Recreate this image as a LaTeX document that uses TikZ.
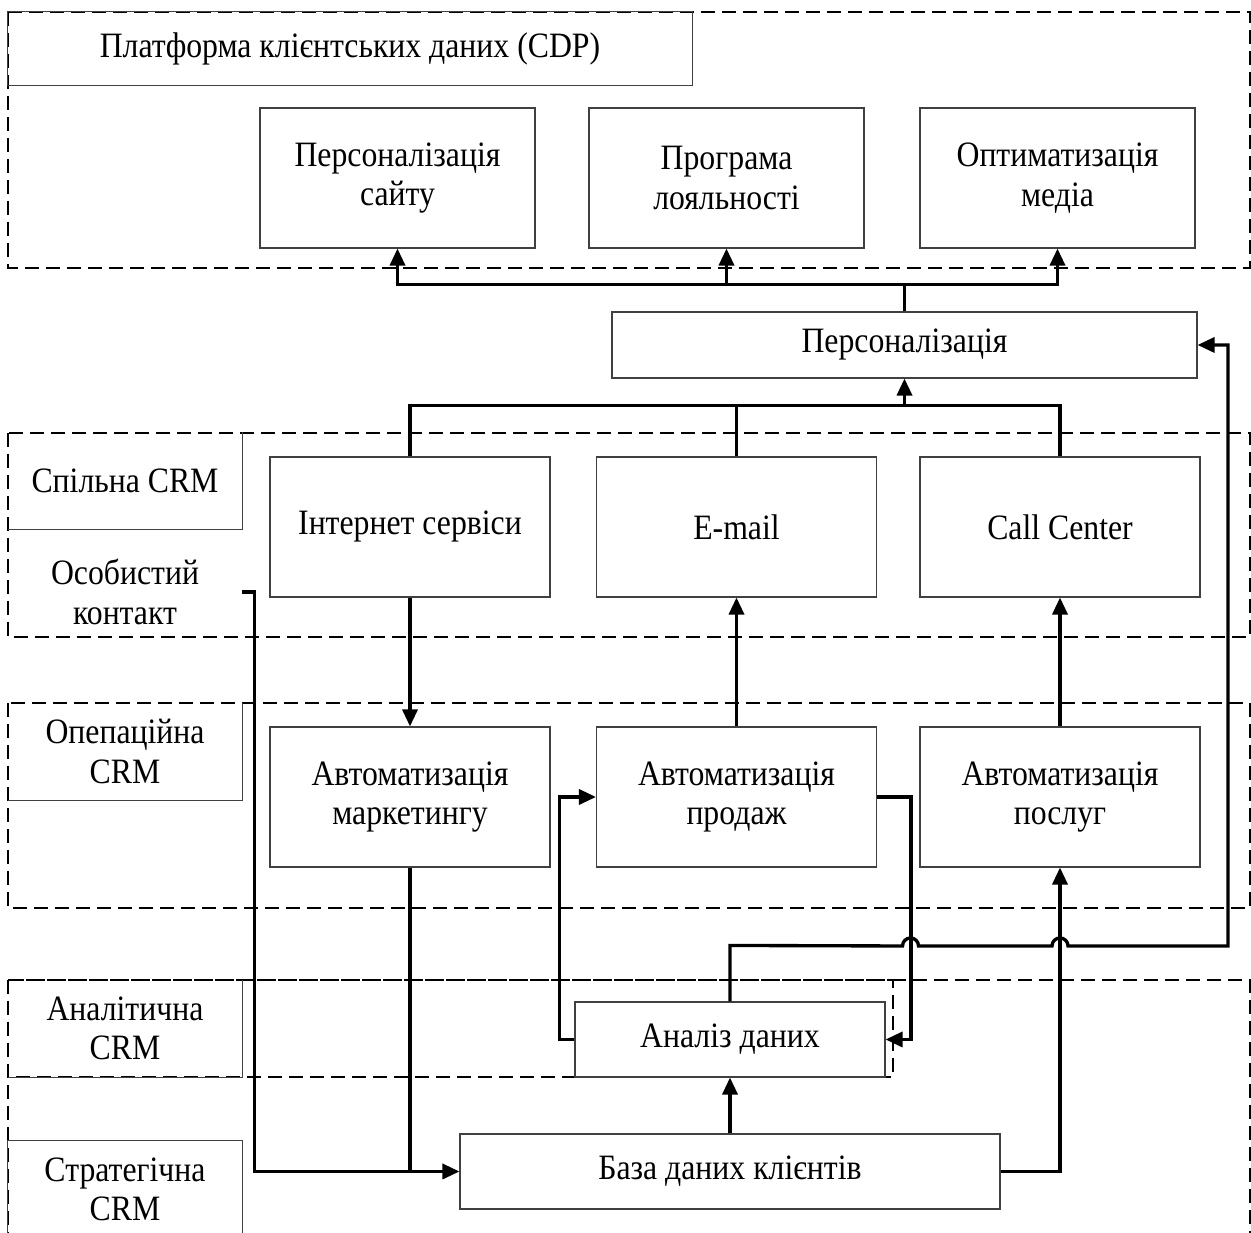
\documentclass[tikz,border=0pt]{standalone}
\usepackage{fontspec}
\setmainfont[FakeStretch=0.89]{Liberation Serif}
\usepackage{tikz}
\usetikzlibrary{arrows.meta,calc}
\definecolor{boxgrey}{RGB}{64,64,64}

\begin{document}
\begin{tikzpicture}[
    font=\fontsize{20.3}{22.5}\selectfont,
    block/.style={draw=boxgrey, line width=0.6pt, align=center, inner sep=0pt,
                  minimum width=5.5cm, minimum height=2.8cm},
    tagbox/.style={align=center, inner sep=0pt,
                   minimum width=4.68cm, minimum height=1.94cm},
    tagline/.style={draw=boxgrey, line width=0.6pt},
    zone/.style={draw, line width=1pt, dash pattern=on 0.28cm off 0.14cm},
    link/.style={line width=1.9pt},
    flow/.style={link, -{Triangle[length=0.34cm, width=0.3cm]}}
]
    \clip (0,0) rectangle (25.02,24.66);

    % Dashed zones
    \draw[zone] (0.16,24.42) rectangle (25.0,19.3);
    \draw[zone] (0.16,16.0) rectangle (25.0,11.92);
    \draw[zone] (0.16,10.6) rectangle (25.0,6.5);
    \draw[zone] (0.16,5.06) rectangle (17.86,3.12);
    \draw[zone] (0.16,5.06) rectangle (25.0,-0.5);

    % Zone titles
    \node[tagbox, minimum width=13.68cm, minimum height=1.46cm] (cdp) at (7.0,23.69) {Платформа клієнтських даних (CDP)};
    \node[tagbox] (joint) at (2.5,15.05) {Спільна CRM};
    \node[tagbox] (contact) at (2.5,12.82) {Особистий\\контакт};
    \node[tagbox] (oper) at (2.5,9.63) {Опепаційна\\CRM};
    \node[tagbox] (analyt) at (2.5,4.09) {Аналітична\\CRM};
    \node[tagbox] (strat) at (2.5,0.87) {Стратегічна\\CRM};
    \draw[tagline] (cdp.north west) rectangle (cdp.south east);
    \draw[tagline] (strat.north west) rectangle (strat.south east);
    \foreach \z in {joint,oper,analyt}
        \draw[tagline] (\z.north east) -- (\z.south east) -- (\z.south west);

    % CDP blocks
    \node[block] (site) at (7.95,21.1) {Персоналізація\\сайту};
    \node[block] (loyal) at (14.53,21.1) {Програма\\лояльності};
    \node[block] (media) at (21.15,21.1) {Оптиматизація\\медіа};

    \node[block, minimum width=11.7cm, minimum height=1.32cm] (pers) at (18.09,17.76) {Персоналізація};

    % Channels
    \node[block, minimum width=5.6cm] (web) at (8.2,14.12) {Інтернет сервіси};
    \node[block, minimum width=5.6cm] (mail) at (14.73,14.12) {E-mail};
    \node[block, minimum width=5.6cm] (call) at (21.2,14.12) {Call Center};

    % Automation
    \node[block, minimum width=5.6cm] (mkt) at (8.2,8.72) {Автоматизація\\маркетингу};
    \node[block, minimum width=5.6cm] (sales) at (14.73,8.72) {Автоматизація\\продаж};
    \node[block, minimum width=5.6cm] (serv) at (21.2,8.72) {Автоматизація\\послуг};

    % Analysis and customer base
    \node[block, minimum width=6.2cm, minimum height=1.5cm] (anl) at (14.6,3.87) {Аналіз даних};
    \node[block, minimum width=10.8cm, minimum height=1.5cm] (base) at (14.6,1.23) {База даних клієнтів};

    % Personalisation fan-out
    \coordinate (topbus) at ($(pers.north)+(0,0.54)$);
    \draw[link] (pers.north) -- (topbus);
    \foreach \t in {site,loyal,media}
        \draw[flow] (topbus) -| (\t.south);

    % Channels into personalisation
    \coordinate (midbus) at ($(pers.south)+(0,-0.54)$);
    \foreach \c in {web,mail,call}
        \draw[link] (\c.north) |- (midbus);
    \draw[flow] (midbus) -- (pers.south);

    \draw[flow] (web.south) -- (mkt.north);
    \draw[flow] (sales.north) -- (mail.south);
    \draw[flow] (serv.north) -- (call.south);

    % Personal contact and marketing into the base
    \draw[flow] (contact.east) -- ++(0.24,0) |- (base.west);
    \draw[link] (mkt.south) -- (mkt.south |- base.west);

    \draw[flow] (base.north) -- (anl.south);
    \draw[flow] (base.east) -| (serv.south);

    % Loop between sales and analysis
    \draw[flow] (anl.west) -- ++(-0.3,0) |- (sales.west);
    \draw[flow] (sales.east) -- ++(0.68,0) |- (anl.east);

    % Feedback from analysis, jumping over two lines
    \draw[flow] (anl.north) -- ++(0,1.12) -- (18.05,5.74)
        arc[start angle=180, end angle=0, radius=0.16] -- (21.04,5.74)
        arc[start angle=180, end angle=0, radius=0.16] -- (24.56,5.74)
        |- (pers.east);
\end{tikzpicture}
\end{document}
